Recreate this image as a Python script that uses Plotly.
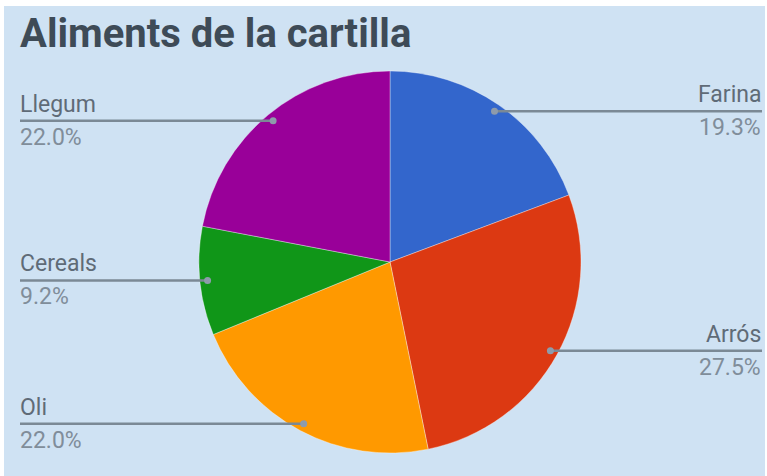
import math
import plotly.graph_objects as go

# Ration-book foods and their share of the total
labels = ["Farina", "Arrós", "Oli", "Cereals", "Llegum"]
values = [19.3, 27.5, 22.0, 9.2, 22.0]
colors = ["#3366cc", "#dc3912", "#ff9900", "#109618", "#990099"]
title_text = "Aliments de la cartilla"

W, H = 767, 476
BG = "#cfe2f3"
CX, CY, R = 390, 262, 191          # pie centre and radius in pixels
DOT_FRAC = 0.96                    # where the leader dot sits along the radius
LINE_COLOR = "#7b8995"
NAME_COLOR = "#5f6b77"
PCT_COLOR = "#808d9a"
LEFT_X, RIGHT_X = 20, 762

fig = go.Figure()

fig.add_trace(go.Pie(
    labels=labels,
    values=values,
    marker=dict(colors=colors, line=dict(color="rgba(255,255,255,0.35)", width=1)),
    sort=False,
    direction="clockwise",
    rotation=0,
    textinfo="none",
    hoverinfo="label+percent",
    showlegend=False,
    domain=dict(x=[(CX - R) / W, (CX + R) / W],
                y=[(H - CY - R) / H, (H - CY + R) / H]),
))

# Leader lines, dots and labels placed from each slice's mid-angle
total = sum(values)
cum = 0.0
annotations = []
shapes = [
    dict(type="rect", xref="paper", yref="paper", x0=0, x1=1, y0=1 - 6 / H, y1=1,
         fillcolor="white", line=dict(width=0), layer="below"),
    dict(type="rect", xref="paper", yref="paper", x0=0, x1=4 / W, y0=0, y1=1,
         fillcolor="white", line=dict(width=0), layer="below"),
    dict(type="rect", xref="paper", yref="paper", x0=1 - 2 / W, x1=1, y0=0, y1=1,
         fillcolor="white", line=dict(width=0), layer="below"),
]
for name, v in zip(labels, values):
    mid = (cum + v / 2) / total * 2 * math.pi
    cum += v
    dx = CX + DOT_FRAC * R * math.sin(mid)
    dy = CY - DOT_FRAC * R * math.cos(mid)
    right = math.sin(mid) > 0
    x_end = RIGHT_X if right else LEFT_X
    shapes.append(dict(
        type="line", xref="x", yref="y", x0=dx, x1=x_end, y0=dy, y1=dy,
        line=dict(color=LINE_COLOR, width=2.5), layer="above"))
    shapes.append(dict(
        type="circle", xref="x", yref="y", x0=dx - 3.5, x1=dx + 3.5,
        y0=dy - 3.5, y1=dy + 3.5, fillcolor="#8e9bab",
        line=dict(width=0), layer="above"))
    anchor = "right" if right else "left"
    tx = x_end + 1 if right else x_end - 2
    annotations.append(dict(
        x=tx, y=dy - 1, xref="x", yref="y", text=name, showarrow=False,
        xanchor=anchor, yanchor="bottom",
        font=dict(family="Roboto", size=23, color=NAME_COLOR)))
    annotations.append(dict(
        x=tx, y=dy + 1, xref="x", yref="y", text=f"{v:.1f}%", showarrow=False,
        xanchor=anchor, yanchor="top",
        font=dict(family="Roboto", size=23, color=PCT_COLOR)))

annotations.append(dict(
    x=18, y=33, xref="x", yref="y", text=f"<b>{title_text}</b>", showarrow=False,
    xanchor="left", yanchor="middle",
    font=dict(family="Roboto", size=40, color="#3e4b57")))

fig.update_layout(
    width=W, height=H, autosize=False,
    margin=dict(l=0, r=0, t=0, b=0, pad=0),
    paper_bgcolor=BG, plot_bgcolor="rgba(0,0,0,0)",
    xaxis=dict(range=[0, W], visible=False, fixedrange=True),
    yaxis=dict(range=[H, 0], visible=False, fixedrange=True),
    annotations=annotations,
    shapes=shapes,
)

fig.write_html("out.html")
